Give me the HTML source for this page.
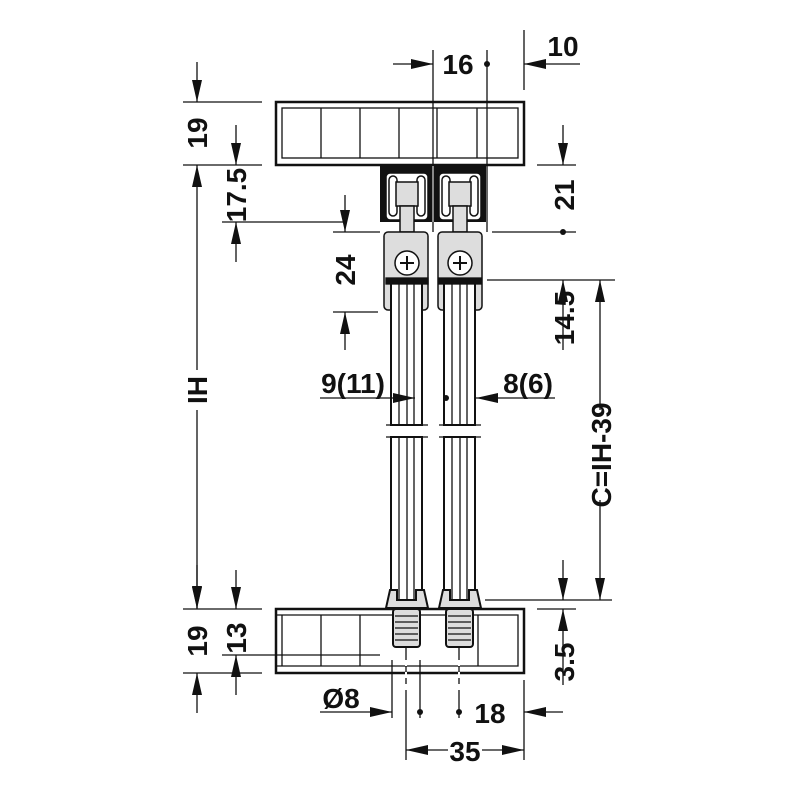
<!DOCTYPE html>
<html><head><meta charset="utf-8"><style>body{margin:0;background:#fff}svg{display:block}text{font-family:"Liberation Sans",sans-serif;font-weight:bold;font-size:28px;fill:#111}</style></head><body>
<svg width="800" height="800" viewBox="0 0 800 800" xmlns="http://www.w3.org/2000/svg">
<defs>
<marker id="a" viewBox="0 0 22 10" refX="22" refY="5" markerWidth="22" markerHeight="10" markerUnits="userSpaceOnUse" orient="auto"><path d="M0,0L22,5L0,10z" fill="#111"/></marker>
</defs>
<g stroke="#111" fill="none" stroke-width="1.3">
<rect x="276" y="102" width="248" height="63" stroke-width="2.5"/>
<rect x="282" y="108" width="236" height="50"/>
<path d="M321 108V158M360 108V158M399 108V158M437 108V158M477 108V158"/>
<rect x="276" y="609" width="248" height="64" stroke-width="2.5"/>
<path d="M276 615H518V666H276M282 615V666M321 615V666M360 615V666M478 615V666"/>
<path d="M433 50V232M487 50V232M524 30V90M183 102H262M183 165H262M222 222H345M333 232H380M333 312H378M492 232H576M537 165H576M487 280H615M485 600H612M537 609H576M183 609H262M183 673H262M222 655H380M392 660V718M420 660V718M406 640V760M459 640V718M524 680V760"/>
</g>
<rect x="380" y="166" width="106" height="56" fill="#111"/>
<line x1="433" y1="166" x2="433" y2="222" stroke="#fff" stroke-width="1"/>
<g stroke="#111" stroke-width="1.5">
<rect x="386" y="173" width="42" height="47" rx="4" fill="#fff"/>
<rect x="439" y="173" width="42" height="47" rx="4" fill="#fff"/>
<rect x="389" y="176" width="8" height="40" rx="4" fill="#fff"/>
<rect x="417" y="176" width="8" height="40" rx="4" fill="#fff"/>
<rect x="442" y="176" width="8" height="40" rx="4" fill="#fff"/>
<rect x="470" y="176" width="8" height="40" rx="4" fill="#fff"/>
<rect x="396" y="182" width="22" height="24" fill="#ddd"/>
<rect x="449" y="182" width="22" height="24" fill="#ddd"/>
<rect x="400" y="206" width="14" height="26" fill="#ddd"/>
<rect x="453" y="206" width="14" height="26" fill="#ddd"/>
<rect x="384" y="232" width="44" height="78" rx="4" fill="#ddd"/>
<rect x="438" y="232" width="44" height="78" rx="4" fill="#ddd"/>
<circle cx="407" cy="263" r="12" fill="#fff"/>
<circle cx="460" cy="263" r="12" fill="#fff"/>
</g>
<path d="M400 263h14M407 256v14M453 263h14M460 256v14" stroke="#111" stroke-width="2"/>
<g stroke="#111" stroke-width="1.3" fill="#fff">
<rect x="391" y="280" width="31" height="145" stroke-width="2"/>
<rect x="444" y="280" width="31" height="145" stroke-width="2"/>
<rect x="391" y="437" width="31" height="165" stroke-width="2"/>
<rect x="444" y="437" width="31" height="165" stroke-width="2"/>
<path d="M399 284V425M407 284V425M414 284V425M452 284V425M460 284V425M467 284V425M399 437V600M407 437V600M414 437V600M452 437V600M460 437V600M467 437V600"/>
<path d="M386 425H428M386 437H428M439 425H481M439 437H481" stroke="#111"/>
<rect x="386" y="278" width="42" height="6" fill="#111"/>
<rect x="439" y="278" width="42" height="6" fill="#111"/>
<path d="M386 608L390 590H397V600H416V590H424L428 608Z" fill="#ddd" stroke-width="2"/>
<path d="M439 608L443 590H450V600H469V590H477L481 608Z" fill="#ddd" stroke-width="2"/>
<rect x="393" y="609" width="27" height="38" rx="3" fill="#ddd" stroke-width="2"/>
<rect x="446" y="609" width="27" height="38" rx="3" fill="#ddd" stroke-width="2"/>
<path d="M395 616h23M395 622h23M395 628h23M395 634h23M395 640h23M448 616h23M448 622h23M448 628h23M448 634h23M448 640h23"/>
</g>
<g stroke="#111" stroke-width="1.3" fill="none" marker-end="url(#a)">
<path d="M197 62V102"/><path d="M197 370V165"/><path d="M197 410V608"/>
<path d="M236 125V165"/><path d="M236 262V222"/>
<path d="M345 195V232"/><path d="M345 350V312"/>
<path d="M563 125V165"/><path d="M563 350V280"/>
<path d="M600 410V280"/><path d="M600 500V600"/>
<path d="M393 64H433"/><path d="M580 64H524"/>
<path d="M320 398H415"/><path d="M555 398H476"/>
<path d="M197 565V609"/><path d="M197 713V673"/>
<path d="M236 570V609"/><path d="M236 695V655"/>
<path d="M563 560V600"/><path d="M563 685V609"/>
<path d="M320 712H392"/><path d="M563 712H524"/>
<path d="M448 750H406"/><path d="M482 750H524"/>
</g>
<g fill="#111"><circle cx="487" cy="64" r="3"/><circle cx="563" cy="232" r="3"/><circle cx="446" cy="398" r="3"/><circle cx="420" cy="712" r="3"/><circle cx="459" cy="712" r="3"/></g>
<path d="M406 660v6M406 672v6M406 684v6M459 660v6M459 672v6M459 684v6" stroke="#fff" stroke-width="2"/>
<text x="458" y="74" text-anchor="middle">16</text>
<text x="563" y="56" text-anchor="middle">10</text>
<text transform="translate(207,133) rotate(-90)" text-anchor="middle">19</text>
<text transform="translate(246,195) rotate(-90)" text-anchor="middle">17.5</text>
<text transform="translate(355,270) rotate(-90)" text-anchor="middle">24</text>
<text transform="translate(207,390) rotate(-90)" text-anchor="middle">IH</text>
<text transform="translate(574,195) rotate(-90)" text-anchor="middle">21</text>
<text transform="translate(574,318) rotate(-90)" text-anchor="middle">14.5</text>
<text transform="translate(611,455) rotate(-90)" text-anchor="middle">C=IH-39</text>
<text x="353" y="393" text-anchor="middle">9(11)</text>
<text x="528" y="393" text-anchor="middle">8(6)</text>
<text transform="translate(207,641) rotate(-90)" text-anchor="middle">19</text>
<text transform="translate(246,638) rotate(-90)" text-anchor="middle">13</text>
<text transform="translate(574,662) rotate(-90)" text-anchor="middle">3.5</text>
<text x="341" y="708" text-anchor="middle">Ø8</text>
<text x="490" y="723" text-anchor="middle">18</text>
<text x="465" y="761" text-anchor="middle">35</text>
</svg>
</body></html>
